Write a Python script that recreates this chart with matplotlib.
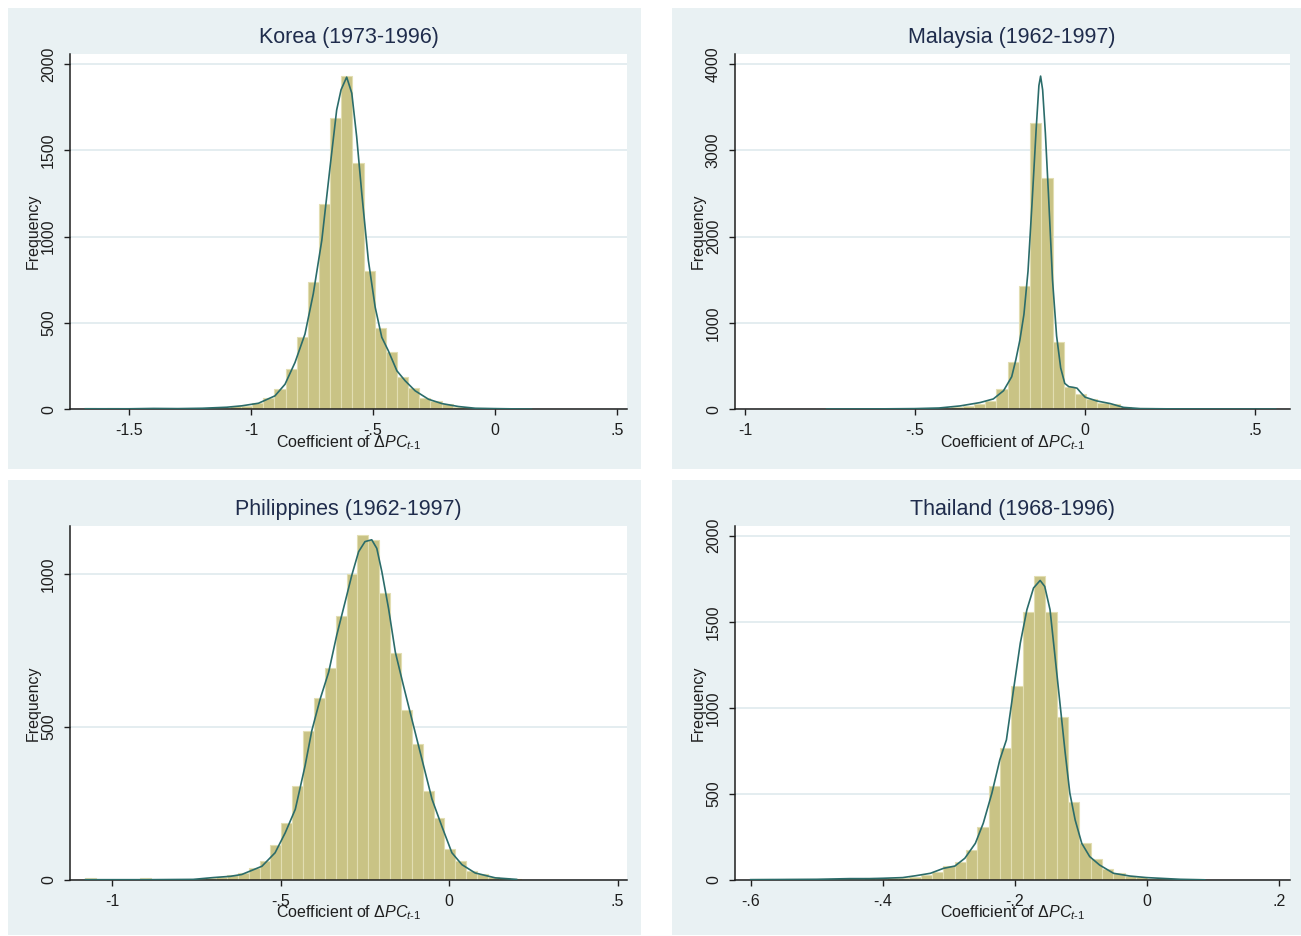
import numpy as np
import matplotlib
matplotlib.use("Agg")
import matplotlib.pyplot as plt
from matplotlib.patches import Rectangle

plt.rcParams['font.family'] = ['Liberation Sans', 'DejaVu Sans']
plt.rcParams['mathtext.fontset'] = 'custom'
plt.rcParams['mathtext.rm'] = 'Liberation Sans'
plt.rcParams['mathtext.it'] = 'Liberation Sans:italic'
plt.rcParams['mathtext.bf'] = 'Liberation Sans:bold'

# ---------------- data ----------------
titles = ["Korea (1973-1996)", "Malaysia (1962-1997)",
          "Philippines (1962-1997)", "Thailand (1968-1996)"]
x_label = r"Coefficient of $\mathit{\Delta PC}_{\mathit{t}\text{-}1}$"
y_label = "Frequency"

# Korea
korea_bin_start = -1.681
korea_bin_width = 0.0457
korea_counts = [5, 0, 5, 0, 2, 3, 1, 0, 2, 3, 4, 6, 10, 18,
                22, 38, 68, 116, 233, 417, 736, 1192, 1690, 1928,
                1428, 800, 471, 330, 188, 126, 68, 48, 29, 15, 10, 6, 4, 3, 2, 2]
korea_kde_x = [-1.68, -1.5, -1.4, -1.3, -1.2, -1.1, -1.039, -0.970, -0.902, -0.861,
               -0.820, -0.779, -0.745, -0.710, -0.676, -0.649, -0.631, -0.608, -0.587,
               -0.567, -0.546, -0.519, -0.491, -0.464, -0.437, -0.402, -0.368, -0.327,
               -0.272, -0.217, -0.149, -0.080, 0.0, 0.1, 0.15]
korea_kde_y = [3, 3, 5, 4, 6, 12, 20, 35, 78, 145, 271, 436, 669, 979, 1405, 1734,
               1851, 1924, 1831, 1579, 1250, 862, 591, 417, 339, 223, 165, 107, 58,
               33, 16, 6, 4, 2, 1]
korea_xticks = [-1.5, -1.0, -0.5, 0.0, 0.5]
korea_xticklabels = ["-1.5", "-1", "-.5", "0", ".5"]
korea_yticks = [0, 500, 1000, 1500, 2000]

# Malaysia
malaysia_bin_start = -0.756
malaysia_bin_width = 0.033
malaysia_counts = [8, 8, 0, 0, 4, 5, 5, 6, 8, 10, 14, 22, 39, 58, 97, 233, 543, 1423,
                   3314, 2674, 783, 260, 174, 116, 78, 58, 31, 19, 10, 7, 6, 5, 5, 4,
                   0, 5, 5, 0, 0, 5]
malaysia_kde_x = [-0.76, -0.6, -0.5, -0.43, -0.368, -0.309, -0.270, -0.240, -0.216,
                  -0.204, -0.192, -0.180, -0.168, -0.156, -0.144, -0.136, -0.131,
                  -0.125, -0.117, -0.108, -0.096, -0.084, -0.072, -0.060, -0.048,
                  -0.036, -0.024, -0.012, 0.0, 0.034, 0.074, 0.113, 0.162, 0.25,
                  0.4, 0.56]
malaysia_kde_y = [3, 5, 8, 15, 39, 78, 120, 215, 377, 570, 800, 1100, 1600, 2400,
                  3250, 3750, 3860, 3700, 3200, 2500, 1500, 850, 480, 300, 262, 255,
                  245, 190, 140, 97, 66, 22, 8, 5, 3, 2]
malaysia_xticks = [-1.0, -0.5, 0.0, 0.5]
malaysia_xticklabels = ["-1", "-.5", "0", ".5"]
malaysia_yticks = [0, 1000, 2000, 3000, 4000]

# Philippines
philippines_bin_start = -1.08
philippines_bin_width = 0.0323
philippines_counts = [5, 0, 0, 0, 0, 5, 0, 0, 0, 1, 3, 5, 10, 15, 23, 39, 61, 116,
                      187, 307, 488, 594, 693, 863, 999, 1126, 1112, 937, 742, 556,
                      444, 291, 202, 102, 61, 28, 18, 10, 5, 3]
philippines_kde_x = [-1.08, -0.9, -0.76, -0.7, -0.65, -0.616, -0.556, -0.517, -0.487,
                     -0.457, -0.428, -0.408, -0.383, -0.358, -0.334, -0.309, -0.289,
                     -0.269, -0.250, -0.230, -0.215, -0.200, -0.180, -0.160, -0.136,
                     -0.111, -0.081, -0.051, -0.022, 0.008, 0.038, 0.077, 0.137, 0.2]
philippines_kde_y = [1, 1, 2, 8, 12, 18, 45, 89, 154, 231, 373, 488, 592, 679, 800,
                     909, 997, 1073, 1106, 1112, 1084, 1008, 887, 745, 636, 526, 395,
                     264, 176, 89, 50, 23, 7, 2]
philippines_xticks = [-1.0, -0.5, 0.0, 0.5]
philippines_xticklabels = ["-1", "-.5", "0", ".5"]
philippines_yticks = [0, 500, 1000]

# Thailand
thailand_bin_start = -0.600
thailand_bin_width = 0.01715
thailand_counts = [4, 4, 0, 3, 3, 4, 4, 5, 6, 8, 10, 8, 10, 14, 20, 28, 48, 81, 103,
                   174, 310, 548, 769, 1124, 1556, 1764, 1556, 944, 452, 213, 120, 62,
                   39, 25, 16, 8, 5, 4, 3, 3]
thailand_kde_x = [-0.6, -0.55, -0.5, -0.45, -0.42, -0.4, -0.37, -0.35, -0.328, -0.308,
                  -0.291, -0.276, -0.260, -0.248, -0.235, -0.223, -0.213, -0.203,
                  -0.192, -0.182, -0.172, -0.162, -0.155, -0.147, -0.140, -0.132,
                  -0.124, -0.117, -0.109, -0.099, -0.087, -0.072, -0.051, -0.026,
                  -0.001, 0.05, 0.087]
thailand_kde_y = [2, 3, 4, 8, 8, 10, 14, 25, 39, 68, 81, 126, 213, 330, 504, 698, 814,
                  1085, 1376, 1570, 1696, 1740, 1705, 1570, 1318, 1027, 736, 504, 349,
                  213, 136, 87, 39, 23, 14, 4, 1]
thailand_xticks = [-0.6, -0.4, -0.2, 0.0, 0.2]
thailand_xticklabels = ["-.6", "-.4", "-.2", "0", ".2"]
thailand_yticks = [0, 500, 1000, 1500, 2000]

# ---------------- styling / layout ----------------
W, H = 1301, 936
BG = '#E9F1F3'
GRID = '#E4EDF0'
BAR = '#C9C385'
BAR_EDGE = '#E2DEB2'
LINE = '#2B6C6A'
TXT = '#1E1E1E'
TITLE_C = '#1F2C4C'

fig = plt.figure(figsize=(W / 100, H / 100), dpi=100)
fig.patch.set_facecolor('white')

panel_boxes = [(8, 8, 641, 469), (672, 8, 1301, 469),
               (8, 480, 641, 935), (672, 480, 1301, 935)]
for (x0, y0, x1, y1) in panel_boxes:
    fig.patches.append(Rectangle((x0 / W, 1 - y1 / H), (x1 - x0) / W, (y1 - y0) / H,
                                 transform=fig.transFigure, facecolor=BG,
                                 edgecolor='none', zorder=-10))

axes_boxes = [(70, 54, 627, 409.3), (734.8, 54, 1289.6, 409.3),
              (70, 525.7, 627, 880), (734.8, 525.7, 1289.6, 880)]
xlims = [(-1.743, 0.542), (-1.030, 0.601), (-1.126, 0.528), (-0.624, 0.2155)]
ylims = [(0, 2058), (0, 4116), (0, 1158), (0, 2058)]

specs = [
    (korea_bin_start, korea_bin_width, korea_counts, korea_kde_x, korea_kde_y,
     korea_xticks, korea_xticklabels, korea_yticks),
    (malaysia_bin_start, malaysia_bin_width, malaysia_counts, malaysia_kde_x,
     malaysia_kde_y, malaysia_xticks, malaysia_xticklabels, malaysia_yticks),
    (philippines_bin_start, philippines_bin_width, philippines_counts,
     philippines_kde_x, philippines_kde_y, philippines_xticks,
     philippines_xticklabels, philippines_yticks),
    (thailand_bin_start, thailand_bin_width, thailand_counts, thailand_kde_x,
     thailand_kde_y, thailand_xticks, thailand_xticklabels, thailand_yticks),
]

for i, (start, width, counts, kx, ky, xt, xtl, yt) in enumerate(specs):
    x0, y0, x1, y1 = axes_boxes[i]
    ax = fig.add_axes([x0 / W, 1 - y1 / H, (x1 - x0) / W, (y1 - y0) / H])
    ax.set_zorder(5)
    ax.set_facecolor('white')
    edges = start + width * np.arange(len(counts) + 1)
    ax.bar(edges[:-1], counts, width=width, align='edge', color=BAR,
           edgecolor=BAR_EDGE, linewidth=0.8, zorder=2)
    ax.plot(kx, ky, color=LINE, lw=1.2, zorder=3)
    ax.set_xlim(*xlims[i])
    ax.set_ylim(*ylims[i])
    ax.set_xticks(xt)
    ax.set_xticklabels(xtl)
    ax.set_yticks(yt)
    ax.set_yticklabels([str(v) for v in yt], rotation=90, va='center', ha='right')
    ax.yaxis.grid(True, color=GRID, lw=1.4, zorder=0)
    ax.set_axisbelow(True)
    for s in ('top', 'right'):
        ax.spines[s].set_visible(False)
    for s in ('left', 'bottom'):
        ax.spines[s].set_color(TXT)
        ax.spines[s].set_linewidth(1.1)
    ax.tick_params(axis='both', direction='out', length=4, width=1, colors=TXT,
                   labelsize=11.5, pad=6)
    ax.annotate(titles[i], xy=(0.5, 1), xycoords='axes fraction', xytext=(0, 16),
                textcoords='offset pixels', ha='center', va='center',
                fontsize=15.5, color=TITLE_C)
    ax.annotate(x_label, xy=(0.5, 0), xycoords='axes fraction', xytext=(0, -33),
                textcoords='offset pixels', ha='center', va='center',
                fontsize=11.5, color=TXT)
    ax.annotate(y_label, xy=(0, 0.5), xycoords='axes fraction', xytext=(-37, 0),
                textcoords='offset pixels', ha='center', va='center', rotation=90,
                fontsize=11.5, color=TXT)

fig.savefig('out.png', dpi=100, facecolor='white')
